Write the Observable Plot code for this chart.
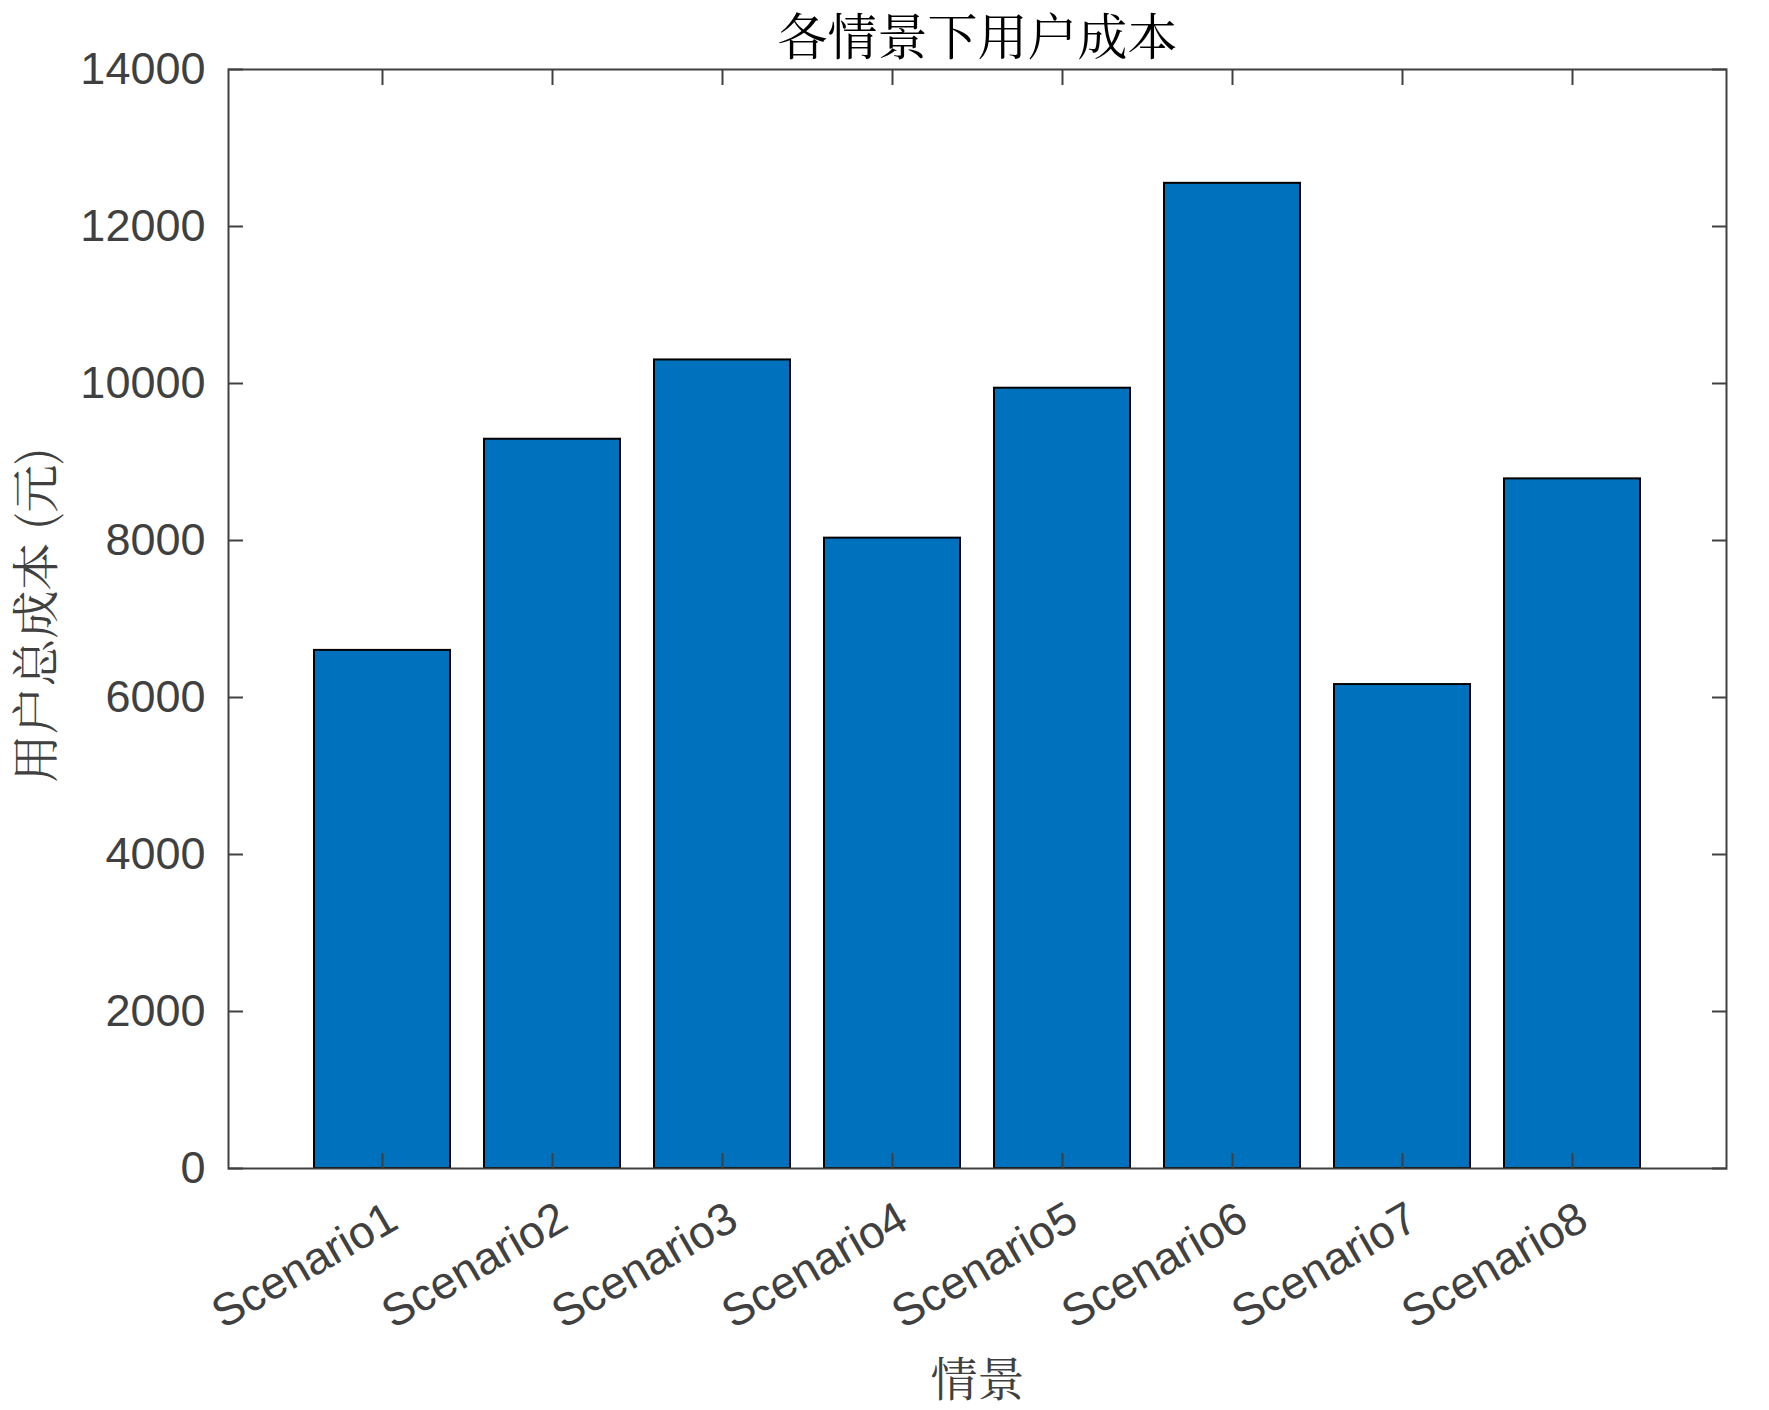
<!DOCTYPE html>
<html>
<head>
<meta charset="utf-8">
<script src="https://cdn.jsdelivr.net/npm/d3@7"></script>
<script src="https://cdn.jsdelivr.net/npm/@observablehq/plot@0.6"></script>
<style>
  html, body { margin: 0; padding: 0; background: #fff; }
  #chart { width: 1769px; height: 1410px; }
</style>
</head>
<body>
<div id="chart"></div>
<script>
const scenarios = ["Scenario1", "Scenario2", "Scenario3", "Scenario4", "Scenario5", "Scenario6", "Scenario7", "Scenario8"];
const costs = [6600, 9290, 10300, 8030, 9940, 12550, 6165, 8785];
const yTicks = [0, 2000, 4000, 6000, 8000, 10000, 12000, 14000];
const titleText = "各情景下用户成本";
const xLabelText = "情景";
const yLabelText = "用户总成本 (元)";

const data = scenarios.map((s, i) => ({scenario: s, cost: costs[i]}));

const axisColor = "#404040";
const tickFont = "'Liberation Sans', Arial, Helvetica, sans-serif";
const cjkFont = "'Noto Serif CJK SC', 'Noto Sans CJK SC', serif";

const chart = Plot.plot({
  width: 1769,
  height: 1410,
  marginTop: 69,
  marginLeft: 228,
  marginRight: 43,
  marginBottom: 242,
  style: {fontFamily: tickFont, color: axisColor, background: "#fff", overflow: "visible"},
  x: {type: "band", domain: scenarios, paddingInner: 0.2, paddingOuter: 0.5},
  y: {domain: [0, 14000]},
  marks: [
    Plot.barY(data, {x: "scenario", y: "cost", fill: "#0072BD", stroke: "#000", strokeWidth: 2}),
    Plot.axisY({ticks: yTicks, tickFormat: d => String(d), tickSize: -15, tickPadding: 38, fontSize: 45, label: null, stroke: axisColor, strokeWidth: 2, fill: axisColor}),
    Plot.axisY({anchor: "right", ticks: yTicks, tickSize: -15, tickFormat: () => "", label: null, stroke: axisColor, strokeWidth: 2}),
    Plot.axisX({anchor: "bottom", tickSize: -15, tickFormat: () => "", label: null, stroke: axisColor, strokeWidth: 2}),
    Plot.axisX({anchor: "bottom", tickSize: 0, tickRotate: -30, tickPadding: 46, dx: 11, fontSize: 45.5, label: null, fill: axisColor}),
    Plot.axisX({anchor: "top", tickSize: -15, tickFormat: () => "", label: null, stroke: axisColor, strokeWidth: 2}),
    Plot.frame({stroke: axisColor, strokeWidth: 2}),
    Plot.text([titleText], {text: d => d, frameAnchor: "top", lineAnchor: "middle", textAnchor: "middle", dy: -31, fontSize: 50, fill: "#000", fontFamily: cjkFont}),
    Plot.text([xLabelText], {text: d => d, frameAnchor: "bottom", lineAnchor: "middle", textAnchor: "middle", dy: 212, fontSize: 47, fill: axisColor, fontFamily: cjkFont}),
    Plot.text([yLabelText], {text: d => d, frameAnchor: "left", lineAnchor: "middle", textAnchor: "middle", dx: -191, dy: -4, rotate: -90, fontSize: 48, fill: axisColor, fontFamily: cjkFont})
  ]
});
document.getElementById("chart").appendChild(chart);
</script>
</body>
</html>
